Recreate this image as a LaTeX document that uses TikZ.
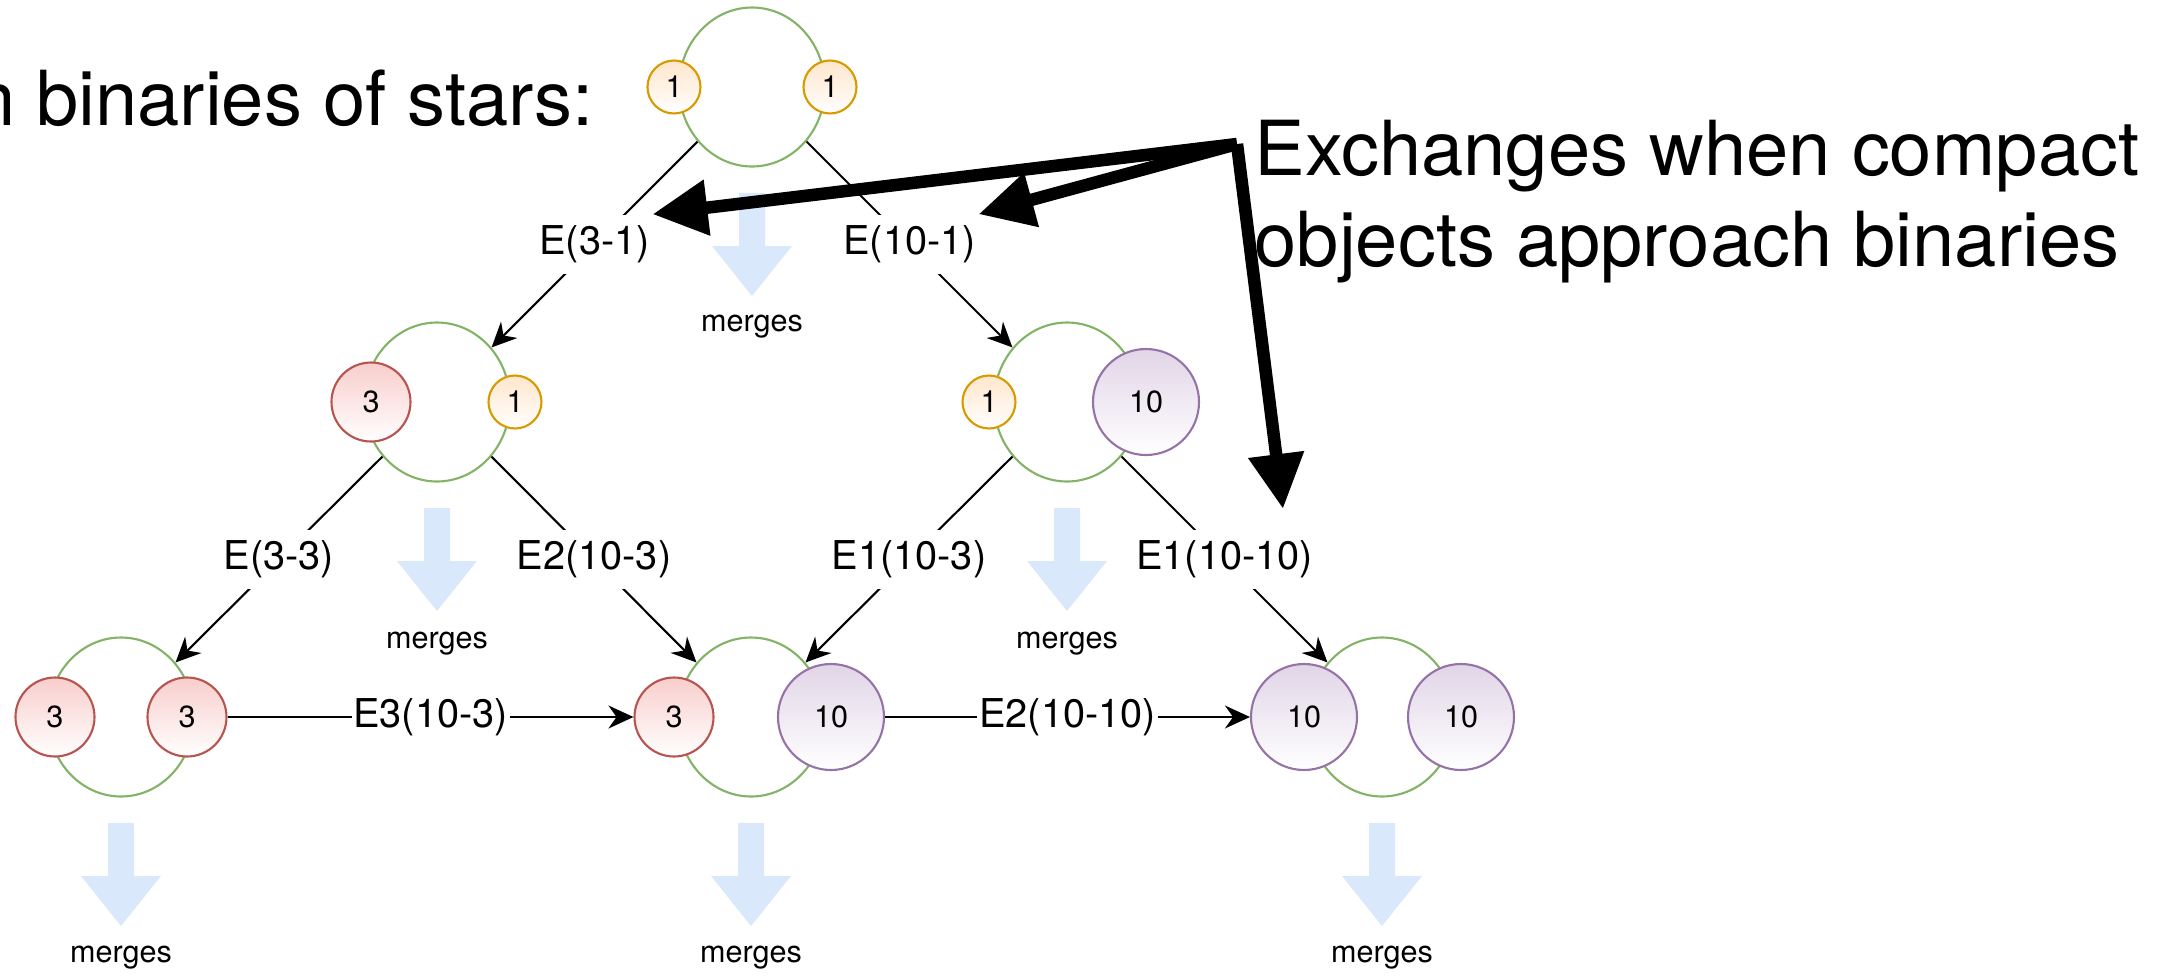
\documentclass[tikz,border=0pt]{standalone}
\usepackage{fontspec}
\setmainfont{TeX Gyre Heros}
\usetikzlibrary{shapes.geometric,arrows.meta}

\definecolor{bingreen}{HTML}{82B366}
\definecolor{onefill}{HTML}{FFE6CC}
\definecolor{oneline}{HTML}{D79B00}
\definecolor{threefill}{HTML}{F8CECC}
\definecolor{threeline}{HTML}{B85450}
\definecolor{tenfill}{HTML}{E1D5E7}
\definecolor{tenline}{HTML}{9673A6}
\definecolor{mergeblue}{HTML}{DAE8FC}

\newcommand{\headsize}{\fontsize{21.6}{25.9}\selectfont}
\newcommand{\lblsize}{\fontsize{11.3}{13}\selectfont}
\newcommand{\numsize}{\fontsize{8.7}{10}\selectfont}

\begin{document}
\begin{tikzpicture}[
  binary/.style={ellipse, draw=bingreen, line width=0.6pt, minimum width=1.46cm, minimum height=1.59cm, inner sep=0pt},
  star1/.style={circle, draw=oneline, top color=onefill, bottom color=white, line width=0.6pt, minimum size=0.53cm, inner sep=0pt, font=\numsize},
  star3/.style={circle, draw=threeline, top color=threefill, bottom color=white, line width=0.6pt, minimum size=0.79cm, inner sep=0pt, font=\numsize},
  star10/.style={circle, draw=tenline, top color=tenfill, bottom color=white, line width=0.6pt, minimum size=1.06cm, inner sep=0pt, font=\numsize},
  lbl/.style={fill=white, inner xsep=0.5pt, inner ysep=3pt, font=\lblsize},
  link/.style={line width=0.6pt, -{Stealth[length=2.5mm,width=2.3mm]}},
  bigarrow/.style={line width=0.125cm, -{Triangle[length=5.5mm,width=5.3mm]}},
  note/.style={inner sep=0pt, font=\headsize},
  mergelbl/.style={font=\numsize},
  mergearrow/.pic={\fill[mergeblue] (-0.13,0) -- (0.13,0) -- (0.13,-0.53) -- (0.40,-0.53) -- (0,-1.03) -- (-0.40,-0.53) -- (-0.13,-0.53) -- cycle;}]
\useasboundingbox (0,0) rectangle (21.67,-9.75);

% binaries
\node[binary] (top) at (7.52,-0.87) {};
\node[binary] (midL) at (4.37,-4.02) {};
\node[binary] (midR) at (10.67,-4.02) {};
\node[binary] (botL) at (1.21,-7.17) {};
\node[binary] (botM) at (7.51,-7.17) {};
\node[binary] (botR) at (13.82,-7.17) {};

% stars
\node[star1] (t1) at (6.74,-0.87) {1};
\node[star1] (t2) at (8.30,-0.87) {1};
\node[star3] (l3) at (3.71,-4.02) {3};
\node[star1] (l1) at (5.15,-4.02) {1};
\node[star1] (r1) at (9.89,-4.02) {1};
\node[star10] (r10) at (11.46,-4.02) {10};
\node[star3] (a3) at (0.55,-7.17) {3};
\node[star3] (b3) at (1.87,-7.17) {3};
\node[star3] (c3) at (6.74,-7.17) {3};
\node[star10] (c10) at (8.31,-7.17) {10};
\node[star10] (d10) at (13.04,-7.17) {10};
\node[star10] (e10) at (14.61,-7.17) {10};

% merges
\pic at (7.52,-1.93) {mergearrow};
\pic at (4.37,-5.08) {mergearrow};
\pic at (10.67,-5.08) {mergearrow};
\pic at (1.21,-8.23) {mergearrow};
\pic at (7.51,-8.23) {mergearrow};
\pic at (13.82,-8.23) {mergearrow};
\node[mergelbl] (m1) at (7.52,-3.27) {merges};
\node[mergelbl] (m2) at (4.37,-6.44) {merges};
\node[mergelbl] (m3) at (10.67,-6.44) {merges};
\node[mergelbl] (m4) at (1.21,-9.58) {merges};
\node[mergelbl] (m5) at (7.51,-9.58) {merges};
\node[mergelbl] (m6) at (13.82,-9.58) {merges};

% exchanges
\draw[link] (top.-135) -- node[lbl] (e31) {E(3-1)} (midL.45);
\draw[link] (top.-45) -- node[lbl] (e101) {E(10-1)} (midR.135);
\draw[link] (midL.-135) -- node[lbl] (e33) {E(3-3)} (botL.45);
\draw[link] (midL.-45) -- node[lbl] (e2103) {E2(10-3)} (botM.135);
\draw[link] (midR.-135) -- node[lbl] (e1103) {E1(10-3)} (botM.45);
\draw[link] (midR.-45) -- node[lbl] (e11010) {E1(10-10)} (botR.135);
\draw[link] (b3.east) -- node[lbl] (e3103) {E3(10-3)} (c3.west);
\draw[link] (c10.east) -- node[lbl] (e21010) {E2(10-10)} (d10.west);

% text
\node[note, anchor=base east] (title) at (5.94,-1.25) {n binaries of stars:};
\node[note, anchor=north west, align=left] (exch) at (12.54,-1.19) {Exchanges when compact\\objects approach binaries};

\coordinate (hub) at (12.37,-1.44);
\coordinate (drop) at (12.83,-5.09);
\draw[bigarrow] (hub) -- (e31.north east);
\draw[bigarrow] (hub) -- (e101.north east);
\draw[bigarrow] (hub) -- (drop);

\end{tikzpicture}
\end{document}
